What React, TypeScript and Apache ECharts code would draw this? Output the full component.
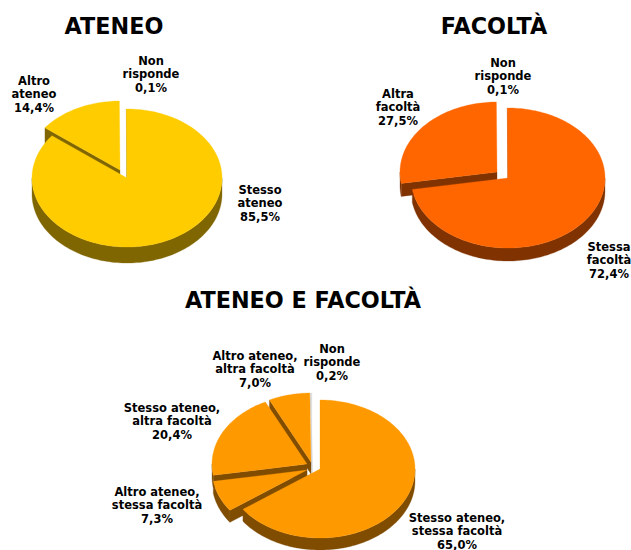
import React, { useEffect, useRef } from "react";
import * as echarts from "echarts";

// ---- data ----
const titles = ["ATENEO", "FACOLTÀ", "ATENEO E FACOLTÀ"];

const ateneoCategories = ["Stesso ateneo", "Altro ateneo", "Non risponde"];
const ateneoValues = [85.5, 14.4, 0.1];

const facoltaCategories = ["Stessa facoltà", "Altra facoltà", "Non risponde"];
const facoltaValues = [72.4, 27.5, 0.1];

const entrambiCategories = [
  "Stesso ateneo, stessa facoltà",
  "Altro ateneo, stessa facoltà",
  "Stesso ateneo, altra facoltà",
  "Altro ateneo, altra facoltà",
  "Non risponde",
];
const entrambiValues = [65.0, 7.3, 20.4, 7.0, 0.2];

// ---- layout / style ----
type Layout = {
  cx: number;
  cy: number;
  rx: number;
  ry: number;
  depth: number;
  top: string;
  side: string;
  offsets: number[][];
  labels: number[][];
  title: number[];
  override?: Record<number, { top: string; side: string }>;
};

const layouts: Layout[] = [
  {
    cx: 127, cy: 178, rx: 95, ry: 69, depth: 16,
    top: "#FFCC00", side: "#806600",
    offsets: [[0, 0], [-7, -8], [0, 0]],
    labels: [[260, 203], [34, 94], [151, 74]],
    title: [114, 26],
  },
  {
    cx: 508, cy: 178, rx: 97, ry: 70, depth: 13,
    top: "#FF6600", side: "#803300",
    offsets: [[0, 0], [-11, -6], [0, 0]],
    labels: [[609, 260], [398, 107], [503, 76]],
    title: [494, 26],
  },
  {
    cx: 320, cy: 469, rx: 95, ry: 69, depth: 12,
    top: "#FF9900", side: "#7F4C00",
    offsets: [[0, 0], [-13, 1], [-13, -5], [-9, -7], [-8, -7]],
    labels: [[457, 531], [157, 505], [172, 421], [255, 369], [332, 362]],
    title: [303, 300],
    override: { 4: { top: "#E0E0E0", side: "#999999" } },
  },
];

const FONT = '"DejaVu Sans", Verdana, sans-serif';

function labelText(name: string, v: number) {
  const lines = name.includes(", ")
    ? name.split(", ").map((s, i, a) => (i < a.length - 1 ? s + "," : s))
    : name.split(" ");
  return [...lines, v.toFixed(1).replace(".", ",") + "%"].join("\n");
}

function makeSeries(cats: string[], vals: number[], L: Layout) {
  const total = vals.reduce((a, b) => a + b, 0);
  const starts: number[] = [];
  let acc = 0;
  vals.forEach((v) => {
    starts.push((acc / total) * 360);
    acc += v;
  });
  return {
    type: "custom",
    coordinateSystem: "none",
    silent: true,
    data: vals,
    renderItem: (params: any) => {
      const i = params.dataIndex;
      const a0 = starts[i];
      const a1 = a0 + (vals[i] / total) * 360;
      const [ox, oy] = L.offsets[i];
      const d = L.depth;
      const topC = L.override?.[i]?.top ?? L.top;
      const sideC = L.override?.[i]?.side ?? L.side;
      const rad = (a: number) => (a * Math.PI) / 180;
      const P = (a: number, dz: number) => [
        L.cx + ox + L.rx * Math.sin(rad(a)),
        L.cy + oy - L.ry * Math.cos(rad(a)) + dz,
      ];
      const arc = (from: number, to: number, dz: number) => {
        const n = Math.max(1, Math.ceil(Math.abs(to - from) / 1.5));
        const pts: number[][] = [];
        for (let k = 0; k <= n; k++) pts.push(P(from + ((to - from) * k) / n, dz));
        return pts;
      };
      const apex = [L.cx + ox, L.cy + oy];
      const apexD = [L.cx + ox, L.cy + oy + d];
      const poly = (points: number[][], fill: string, z2: number) => ({
        type: "polygon",
        z2,
        shape: { points },
        style: { fill, stroke: fill, lineWidth: 0.3 },
      });
      const children: any[] = [];
      if (Math.sin(rad(a0)) < -1e-6) children.push(poly([apex, P(a0, 0), P(a0, d), apexD], sideC, 1));
      if (Math.sin(rad(a1)) > 1e-6) children.push(poly([apex, P(a1, 0), P(a1, d), apexD], sideC, 1));
      const lo = Math.max(a0, 90);
      const hi = Math.min(a1, 270);
      if (hi > lo) children.push(poly([...arc(lo, hi, 0), ...arc(hi, lo, d)], sideC, 2));
      children.push(poly([apex, ...arc(a0, a1, 0)], topC, 3));
      children.push({
        type: "text",
        z2: 5,
        x: L.labels[i][0],
        y: L.labels[i][1],
        style: {
          text: labelText(cats[i], vals[i]),
          fill: "#000000",
          font: `bold 11.5px ${FONT}`,
          align: "center",
          verticalAlign: "middle",
          textAlign: "center",
          textVerticalAlign: "middle",
          lineHeight: 13.5,
        },
      });
      return { type: "group", children };
    },
  };
}

export default function App() {
  const ref = useRef<HTMLDivElement>(null);
  useEffect(() => {
    if (!ref.current) return;
    const chart = echarts.init(ref.current, undefined, { renderer: "svg" });
    chart.setOption({
      animation: false,
      backgroundColor: "#FFFFFF",
      graphic: titles.map((t, i) => ({
        type: "text",
        x: layouts[i].title[0],
        y: layouts[i].title[1],
        style: {
          text: t,
          fill: "#000000",
          font: `bold 22.3px ${FONT}`,
          textAlign: "center",
          textVerticalAlign: "middle",
          align: "center",
          verticalAlign: "middle",
        },
      })),
      series: [
        makeSeries(ateneoCategories, ateneoValues, layouts[0]),
        makeSeries(facoltaCategories, facoltaValues, layouts[1]),
        makeSeries(entrambiCategories, entrambiValues, layouts[2]),
      ],
    });
    return () => chart.dispose();
  }, []);
  return (
    <div
      ref={ref}
      style={{ position: "absolute", left: 0, top: 0, width: 631, height: 550 }}
    />
  );
}
